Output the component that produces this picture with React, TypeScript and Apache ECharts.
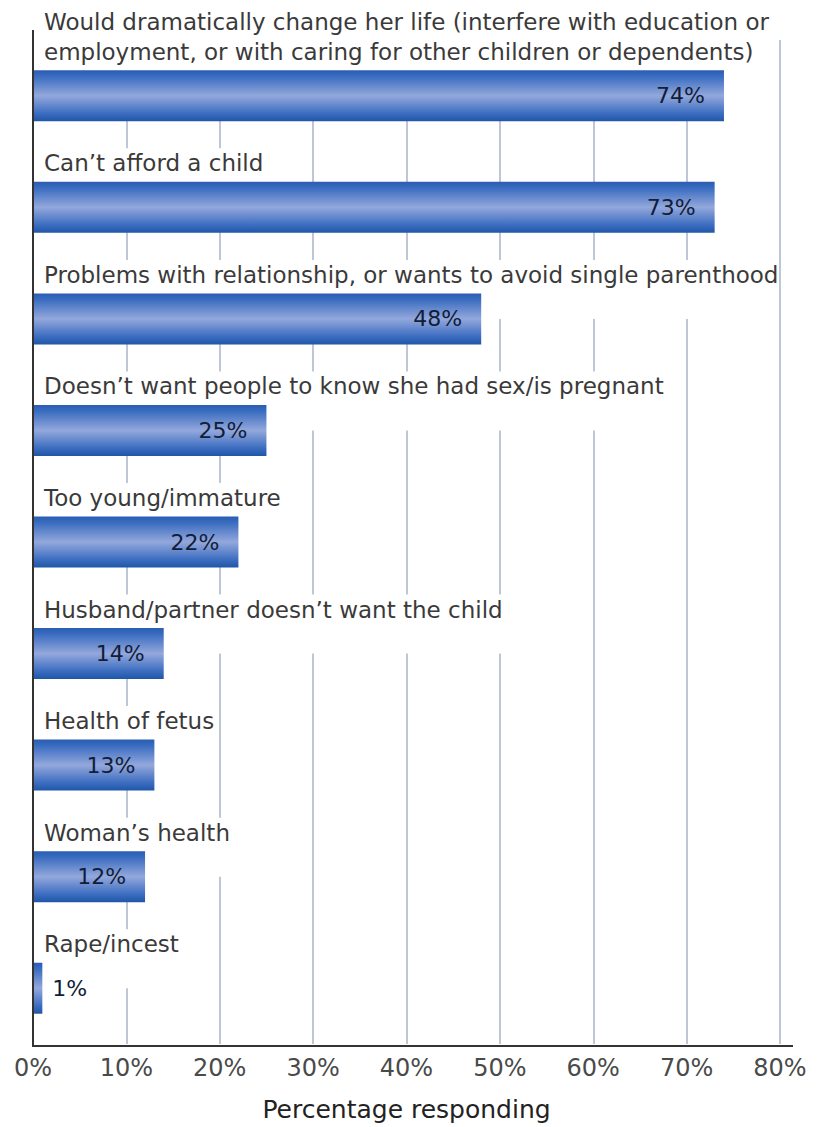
import React, { useEffect, useRef } from "react";
import * as echarts from "echarts";

const categories = [
  "Would dramatically change her life (interfere with education or\nemployment, or with caring for other children or dependents)",
  "Can’t afford a child",
  "Problems with relationship, or wants to avoid single parenthood",
  "Doesn’t want people to know she had sex/is pregnant",
  "Too young/immature",
  "Husband/partner doesn’t want the child",
  "Health of fetus",
  "Woman’s health",
  "Rape/incest",
];
const values = [74, 73, 48, 25, 22, 14, 13, 12, 1];
const xTicks = [0, 10, 20, 30, 40, 50, 60, 70, 80];
const xTitle = "Percentage responding";

const FONT = "'DejaVu Sans', sans-serif";

export default function App() {
  const ref = useRef<HTMLDivElement>(null);
  useEffect(() => {
    if (!ref.current) return;
    const chart = echarts.init(ref.current, undefined, { renderer: "svg" });
    const barColor = new echarts.graphic.LinearGradient(0, 0, 0, 1, [
      { offset: 0, color: "#2a5db2" },
      { offset: 0.12, color: "#3a6cc0" },
      { offset: 0.5, color: "#93a8dc" },
      { offset: 0.85, color: "#3b6cc0" },
      { offset: 1, color: "#1f56a8" },
    ]);
    chart.setOption({
      animation: false,
      grid: { left: 33, right: 42, top: 40, bottom: 81, containLabel: false },
      xAxis: {
        type: "value",
        min: xTicks[0],
        max: xTicks[xTicks.length - 1],
        interval: 10,
        axisLine: { show: false },
        axisTick: { show: false },
        splitLine: { show: true, lineStyle: { color: "#a9b4c9", width: 1.5 } },
        axisLabel: {
          formatter: "{value}%",
          color: "#4a4a4a",
          fontSize: 24,
          fontFamily: FONT,
          margin: 12,
        },
        name: xTitle,
        nameLocation: "middle",
        nameGap: 53,
        nameTextStyle: { color: "#222", fontSize: 25, fontFamily: FONT },
      },
      yAxis: {
        type: "category",
        inverse: true,
        data: categories,
        z: 1,
        axisLine: { show: false },
        axisTick: { show: false },
        splitLine: { show: false },
        axisLabel: {
          inside: true,
          margin: 11,
          align: "left",
          verticalAlign: "bottom",
          color: "#3a3a3a",
          fontSize: 23,
          lineHeight: 30,
          fontFamily: FONT,
          backgroundColor: "#fff",
          padding: [0, 0, 29, 0],
        },
      },
      series: [
        {
          type: "bar",
          barWidth: 51,
          data: values.map((v, i) =>
            i === values.length - 1
              ? { value: v, label: { position: "right", distance: 10 } }
              : v
          ),
          itemStyle: { color: barColor },
          label: {
            show: true,
            position: "insideRight",
            distance: 19,
            formatter: "{c}%",
            color: "#121d38",
            fontSize: 22,
            fontWeight: "normal",
            fontFamily: FONT,
          },
        },
      ],
      graphic: [
        { type: "line", z: 10, shape: { x1: 33, y1: 30, x2: 33, y2: 1047 }, style: { stroke: "#333", lineWidth: 2 } },
        { type: "line", z: 10, shape: { x1: 32, y1: 1046, x2: 793, y2: 1046 }, style: { stroke: "#333", lineWidth: 2 } },
      ],
    });
    return () => chart.dispose();
  }, []);
  return (
    <div
      ref={ref}
      style={{ position: "fixed", left: 0, top: 0, width: 822, height: 1127, background: "#fff" }}
    />
  );
}
